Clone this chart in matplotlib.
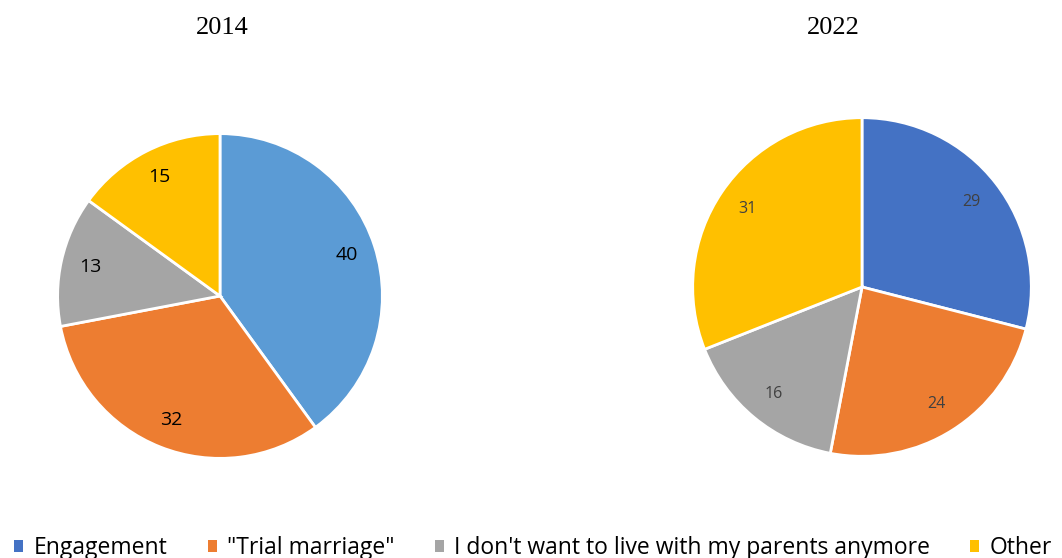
import matplotlib.pyplot as plt
from matplotlib.patches import Patch

categories = ['Engagement', '"Trial marriage"', "I don't want to live with my parents anymore", 'Other']
values_2014 = [40, 32, 13, 15]
values_2022 = [29, 24, 16, 31]
years = ['2014', '2022']

colors_2014 = ['#5B9BD5', '#ED7D31', '#A5A5A5', '#FFC000']
colors_2022 = ['#4472C4', '#ED7D31', '#A5A5A5', '#FFC000']

W, H = 1062, 558
fig = plt.figure(figsize=(W / 100, H / 100), dpi=100)


def add_pie(cx, cy, r, vals, cols, fsize, tcolor):
    # place a square axes so the pie sits at pixel centre (cx, cy) with radius r
    ax = fig.add_axes([(cx - r) / W, 1 - (cy + r) / H, 2 * r / W, 2 * r / H])
    wedges, texts = ax.pie(vals, colors=cols, startangle=90, counterclock=False,
                           wedgeprops=dict(edgecolor='white', linewidth=2),
                           labels=[str(v) for v in vals], labeldistance=0.82,
                           textprops=dict(fontsize=fsize, color=tcolor, family='Open Sans'))
    for t in texts:
        t.set_ha('center')
        t.set_va('center')
    ax.set_xlim(-1.01, 1.01)
    ax.set_ylim(-1.01, 1.01)
    ax.set_aspect('equal')
    ax.axis('off')
    return ax


add_pie(220, 296, 164, values_2014, colors_2014, 14, 'black')
add_pie(862, 287, 171, values_2022, colors_2022, 11.5, '#404040')

# titles
fig.text(222 / W, 1 - 28 / H, years[0], ha='center', va='center',
         family='Liberation Serif', fontsize=19)
fig.text(833 / W, 1 - 28 / H, years[1], ha='center', va='center',
         family='Liberation Serif', fontsize=19)

# legend
handles = [Patch(facecolor=c, edgecolor='none') for c in colors_2022]
fig.legend(handles, categories, loc='center', bbox_to_anchor=(0.502, 1 - 548 / H),
           ncol=4, frameon=False, handlelength=0.4, handleheight=0.45, handletextpad=0.45,
           columnspacing=1.75, borderpad=0, prop=dict(family='Open Sans', size=16.5))

fig.savefig('out.png', dpi=100)
